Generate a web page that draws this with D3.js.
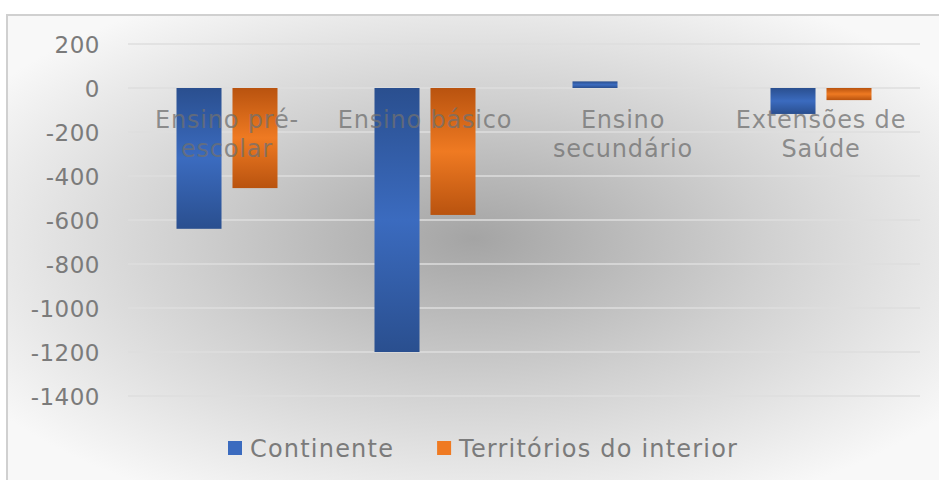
<!doctype html>
<html>
<head>
    <meta charset="UTF-8">
    <script type="text/javascript" src="https://cdn.jsdelivr.net/npm/d3@7"></script>
    <style>
        body { margin: 0; background: #fff; overflow: hidden; }
        text { font-family: "DejaVu Sans", sans-serif; }
    </style>
</head>
<body>
<svg id="chart"></svg>
<script type="text/javascript">
// chart values
var categories = ["Ensino pré-escolar", "Ensino básico", "Ensino secundário", "Extensões de Saúde"];
var labelLines = [["Ensino pré-", "escolar"], ["Ensino básico"], ["Ensino", "secundário"], ["Extensões de", "Saúde"]];
var series = ["Continente", "Territórios do interior"];
var continente = [-640, -1200, 30, -118];
var interior = [-455, -577, 0, -55];
var yTicks = [200, 0, -200, -400, -600, -800, -1000, -1200, -1400];

var width = 939, height = 480;
var colors = {"Continente": ["#2a4f8f", "#3b6bbf"], "Territórios do interior": ["#b9530f", "#ef7a22"]};

var svg = d3.select("#chart").attr("width", width).attr("height", height);
var defs = svg.append("defs");

var bg = defs.append("radialGradient").attr("id", "bg")
    .attr("cx", "0.5").attr("cy", "0.5").attr("r", "0.62").attr("fx", "0.5").attr("fy", "0.48");
bg.append("stop").attr("offset", "0").attr("stop-color", "#a4a4a4");
bg.append("stop").attr("offset", "0.5").attr("stop-color", "#d0d0d0");
bg.append("stop").attr("offset", "1").attr("stop-color", "#f8f8f8");

series.forEach(function(s, i) {
    var g = defs.append("linearGradient").attr("id", "bar" + i)
        .attr("x1", 0).attr("y1", 0).attr("x2", 0).attr("y2", 1);
    g.append("stop").attr("offset", "0").attr("stop-color", colors[s][0]);
    g.append("stop").attr("offset", "0.5").attr("stop-color", colors[s][1]);
    g.append("stop").attr("offset", "1").attr("stop-color", colors[s][0]);
});

// frame
svg.append("rect").attr("x", 7).attr("y", 15).attr("width", width - 6).attr("height", height - 14)
    .style("fill", "url(#bg)").style("stroke", "#d0d0d0").style("stroke-width", 2);

var y = d3.scaleLinear().domain([-1400, 200]).range([396, 44]);
var x0 = d3.scaleBand().domain(categories).range([128, 920]).padding(0);
var x1 = d3.scaleBand().domain(series).range([48.5, 149.5]).paddingInner(0.196).paddingOuter(0);

// gridlines
svg.append("g").selectAll("line").data(yTicks).enter().append("line")
    .attr("x1", 128).attr("x2", 920)
    .attr("y1", function(d) { return y(d); }).attr("y2", function(d) { return y(d); })
    .style("stroke", "#dedede").style("stroke-width", 1.5);

// y axis labels
var yAxis = d3.axisLeft(y).tickValues(yTicks).tickSize(0).tickPadding(0)
    .tickFormat(function(d) { return d; });
var ya = svg.append("g").attr("transform", "translate(100,0)").call(yAxis);
ya.select(".domain").remove();
ya.selectAll("text").style("font-size", "23px").style("fill", "#7b7b7b")
    .style("font-family", "DejaVu Sans, sans-serif").style("letter-spacing", "0.5px").attr("dy", "0.36em");

// bars
var rows = categories.map(function(c, i) {
    return {cat: c, vals: [{s: series[0], v: continente[i], k: 0}, {s: series[1], v: interior[i], k: 1}]};
});
var groups = svg.append("g").selectAll("g").data(rows).enter().append("g")
    .attr("transform", function(d) { return "translate(" + x0(d.cat) + ",0)"; });
groups.selectAll("rect").data(function(d) { return d.vals; }).enter().append("rect")
    .attr("x", function(d) { return x1(d.s); })
    .attr("width", x1.bandwidth())
    .attr("y", function(d) { return y(Math.max(0, d.v)); })
    .attr("height", function(d) { return Math.abs(y(d.v) - y(0)); })
    .style("fill", function(d) { return "url(#bar" + d.k + ")"; });

// category labels (drawn over the bars, like the original)
var labels = svg.append("g").selectAll("text").data(categories).enter().append("text")
    .attr("x", function(d) { return x0(d) + x0.bandwidth() / 2; })
    .attr("y", 128)
    .attr("text-anchor", "middle")
    .style("font-size", "24px").style("letter-spacing", "0.8px")
    .style("fill", "#707070").style("fill-opacity", 0.75);
labels.each(function(d, i) {
    var t = d3.select(this);
    labelLines[i].forEach(function(line, j) {
        t.append("tspan").attr("x", x0(d) + x0.bandwidth() / 2).attr("dy", j == 0 ? 0 : 29).text(line);
    });
});

// legend
var legend = svg.append("g").attr("transform", "translate(228,448)");
var lx = 0;
series.forEach(function(s, i) {
    var item = legend.append("g").attr("transform", "translate(" + lx + ",0)");
    item.append("rect").attr("x", 0).attr("y", -7).attr("width", 14).attr("height", 14)
        .style("fill", colors[s][1]);
    var t = item.append("text").attr("x", 22).attr("y", 0).attr("dy", "0.36em")
        .style("font-size", "24px").style("letter-spacing", "1.2px")
        .style("fill", "#7b7b7b").text(s);
    lx += 22 + t.node().getComputedTextLength() + 43;
});
</script>
</body>
</html>
